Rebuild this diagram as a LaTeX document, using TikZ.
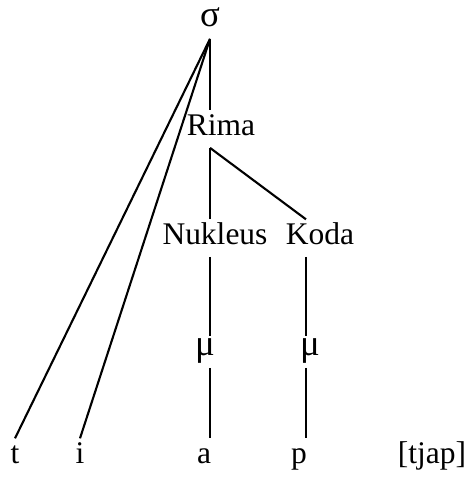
\documentclass[tikz,border=0pt]{standalone}
\usepackage{fontspec}
\setmainfont{Liberation Serif}
\begin{document}
\begin{tikzpicture}[x=0.381pt,y=-0.381pt,line join=round,thick,
  lbl/.style={anchor=base,inner xsep=0pt,inner ysep=2pt,text height=0.7em,text depth=0.25em,font=\fontsize{12}{14}\selectfont},
  grk/.style={lbl,font=\fontsize{14}{16}\selectfont,text height=0.5em}]
\useasboundingbox (0,0) rectangle (473,478);
\coordinate (spine) at (210,0);
\coordinate (kspine) at (306,0);
\node[grk] (sigma) at (210,26) {σ};
\node[lbl] (rima) at (221,135) {Rima};
\node[lbl] (nukleus) at (215,244) {Nukleus};
\node[lbl] (koda) at (320,244) {Koda};
\node[grk] (mu1) at (205,355) {μ};
\node[grk] (mu2) at (310,355) {μ};
\node[lbl] (t) at (15,463) {t};
\node[lbl] (i) at (80,463) {i};
\node[lbl] (a) at (204,463) {a};
\node[lbl] (p) at (299,463) {p};
\node[lbl] (tjap) at (432,463) {[tjap]};
\draw (sigma.south) -- (rima.north -| spine);
\draw (sigma.south) -- (t.north);
\draw (sigma.south) -- (i.north);
\draw (rima.south -| spine) -- (nukleus.north -| spine);
\draw (rima.south -| spine) -- (koda.north -| kspine);
\draw (nukleus.south -| spine) -- (mu1.north -| spine);
\draw (koda.south -| kspine) -- (mu2.north -| kspine);
\draw (mu1.south -| spine) -- (a.north -| spine);
\draw (mu2.south -| kspine) -- (p.north -| kspine);
\end{tikzpicture}
\end{document}
